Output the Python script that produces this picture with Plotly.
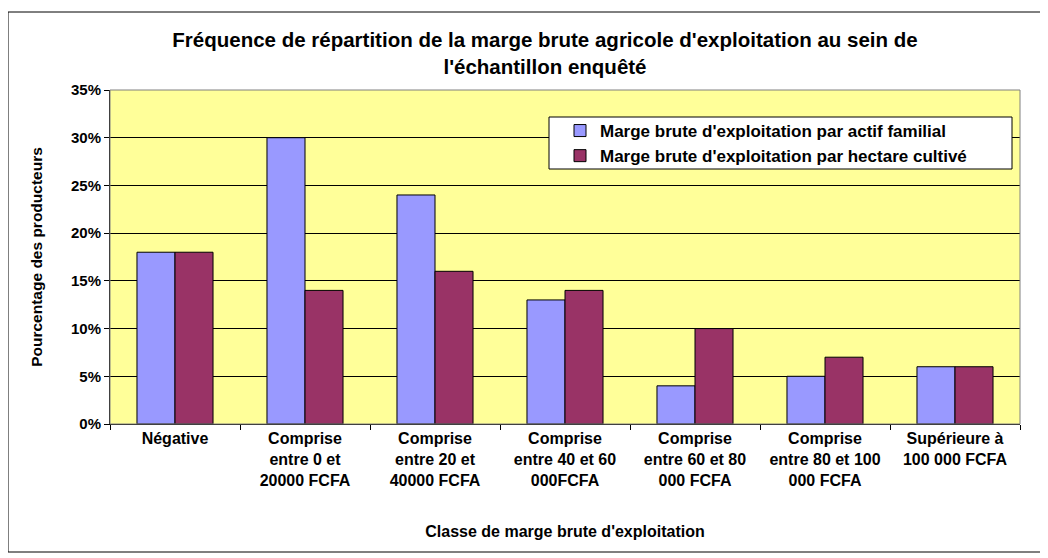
import plotly.graph_objects as go

categories = [
    "Négative",
    "Comprise<br>entre 0 et<br>20000 FCFA",
    "Comprise<br>entre 20 et<br>40000 FCFA",
    "Comprise<br>entre 40 et 60<br>000FCFA",
    "Comprise<br>entre 60 et 80<br>000 FCFA",
    "Comprise<br>entre 80 et 100<br>000 FCFA",
    "Supérieure à<br>100 000 FCFA",
]
actif_familial = [18, 30, 24, 13, 4, 5, 6]
hectare_cultive = [18, 14, 16, 14, 10, 7, 6]
y_ticks = [0, 5, 10, 15, 20, 25, 30, 35]

# page body adds an 8px offset; work in screen coordinates and convert
OFF = 8
W, H = 1040, 550
ML, MT = 110 - OFF, 90 - OFF
MR = W - (1020 - OFF)
MB = H - (424 - OFF)
pw, ph = W - ML - MR, H - MT - MB

def px(x):
    return (x - OFF - ML) / pw

def py(y):
    return (H - MB - (y - OFF)) / ph

font_family = "Liberation Sans, Arial, sans-serif"

fig = go.Figure()
fig.add_trace(go.Bar(
    x=categories, y=actif_familial,
    name="Marge brute d'exploitation par actif familial",
    marker=dict(color="#9999FF", line=dict(color="black", width=1)),
))
fig.add_trace(go.Bar(
    x=categories, y=hectare_cultive,
    name="Marge brute d'exploitation par hectare cultivé",
    marker=dict(color="#993366", line=dict(color="black", width=1)),
))

fig.update_layout(
    width=W, height=H,
    margin=dict(l=ML, r=MR, t=MT, b=MB, autoexpand=False),
    paper_bgcolor="white",
    plot_bgcolor="#FFFF99",
    barmode="group",
    bargap=0.415,
    bargroupgap=0,
    font=dict(family=font_family, color="black", size=15),
    title=dict(
        text="<b>Fréquence de répartition de la marge brute agricole d'exploitation au sein de<br>l'échantillon enquêté</b>",
        font=dict(size=20.5, family=font_family, color="black"),
        x=(545 - OFF) / W, xanchor="center", xref="container",
        y=1 - (47 - OFF) / H, yanchor="middle", yref="container",
    ),
    legend=dict(
        x=px(560), xanchor="left",
        y=py(113), yanchor="top",
        bgcolor="rgba(0,0,0,0)", borderwidth=0,
        font=dict(size=17, family=font_family, color="black", weight="bold"),
        tracegroupgap=0,
    ),
    showlegend=True,
)

fig.update_xaxes(
    type="category",
    automargin=False,
    tickson="boundaries",
    ticks="outside", ticklen=5, tickcolor="black",
    showline=True, linecolor="black", linewidth=1,
    showgrid=False,
    tickfont=dict(size=16, family=font_family, color="black", weight="bold"),
    title=dict(text="<b>Classe de marge brute d'exploitation</b>",
               font=dict(size=16, family=font_family, color="black"), standoff=38),
)
fig.update_yaxes(
    automargin=False,
    range=[0, 35],
    tickvals=y_ticks,
    ticktext=[f"{v}%" for v in y_ticks],
    ticks="outside", ticklen=5, tickcolor="black",
    showline=True, linecolor="black", linewidth=1,
    showgrid=True, gridcolor="black", gridwidth=1,
    zeroline=False,
    tickfont=dict(size=15, family=font_family, color="black", weight="bold"),
    title=dict(text="<b>Pourcentage des producteurs</b>",
               font=dict(size=15.5, family=font_family, color="black"), standoff=24),
)

# plot-area border (gray), legend box, and outer chart border (black)
fig.add_shape(type="rect", xref="paper", yref="paper", x0=0, x1=1, y0=0, y1=1,
              line=dict(color="#808080", width=1), layer="above")
fig.add_shape(type="rect", xref="paper", yref="paper",
              x0=px(549), x1=px(1012), y0=py(169), y1=py(117),
              fillcolor="white", line=dict(color="black", width=1), layer="above")
fig.add_shape(type="rect", xref="paper", yref="paper",
              x0=px(8), x1=px(1041), y0=py(552), y1=py(12),
              line=dict(color="black", width=1))

fig.write_html("out.html")
